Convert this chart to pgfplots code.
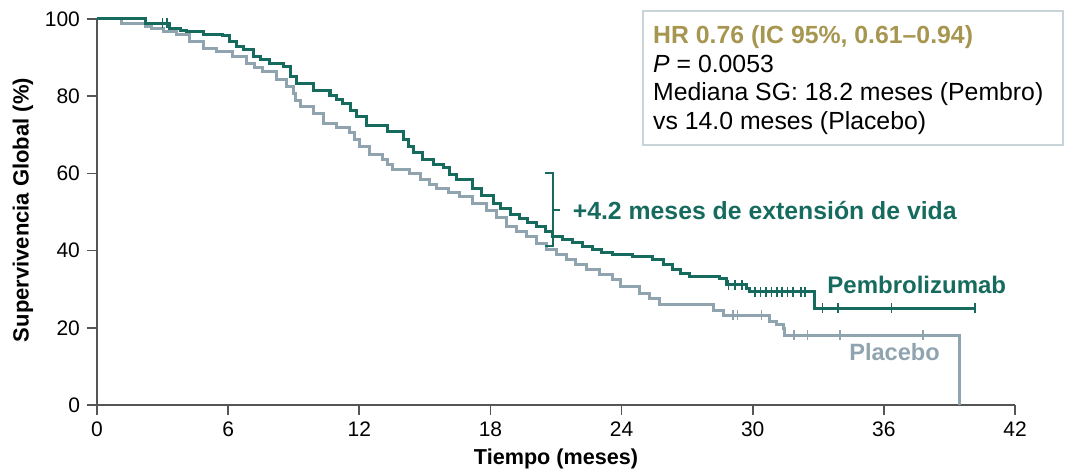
\documentclass[border=0pt]{standalone}
\usepackage{pgfplots}
\pgfplotsset{compat=1.18}
\usepackage{fontspec}
\setmainfont{Liberation Sans}
\definecolor{teal1}{RGB}{22,107,94}
\definecolor{plgray}{RGB}{143,164,175}
\definecolor{gold}{RGB}{166,150,80}
\definecolor{axgray}{RGB}{85,85,85}
\definecolor{boxcol}{RGB}{200,212,216}
\begin{document}
\begin{tikzpicture}
\begin{axis}[
  at={(0,0)}, anchor=south west, scale only axis, width=459pt, height=193pt,
  xmin=0, xmax=42, ymin=0, ymax=100,
  axis lines=left, axis line style={-, line width=1pt, color=axgray},
  xtick={0,6,...,42}, ytick={0,20,...,100},
  tick style={line width=0.8pt, color=axgray}, major tick length=5pt, tick align=outside,
  ticklabel style={font=\fontsize{10.5}{12}\selectfont},
  /pgf/number format/assume math mode=true,
  xlabel={\textbf{Tiempo (meses)}}, ylabel={\textbf{Supervivencia Global (\%)}},
  x label style={at={(axis description cs:0.5,-0.155)}, anchor=base, font=\fontsize{10.8}{12}\selectfont},
  y label style={at={(axis description cs:-0.0806,0.505)}, anchor=center, font=\fontsize{11}{12}\selectfont},
  clip=false,
]
\addplot[const plot, plgray, line width=1.5pt] coordinates {
(0,100)(1.13,98.9)(2.2,98.0)(2.5,97.6)(3.02,96.7)(3.65,95.9)(4.25,94.1)(4.85,92.4)(5.48,91.5)(6.22,90.2)(6.85,88.5)(7.2,87.4)(7.59,86.3)(8.22,84.2)(8.68,82.5)(8.97,80.7)(9.1,79.0)(9.29,77.3)(9.9,75.6)(10.34,73.0)(10.98,71.8)(11.57,70.5)(11.8,68.7)(12.03,66.9)(12.49,64.8)(13.08,63.5)(13.3,62.2)(13.54,60.9)(14.3,60.1)(14.78,58.3)(15.2,57.2)(15.55,56.2)(16.1,55.0)(16.6,53.9)(17.2,52.2)(17.84,50.5)(18.3,48.7)(18.74,46.2)(19.2,44.9)(19.66,43.6)(20.1,41.9)(20.57,40.2)(21.0,38.9)(21.49,37.6)(21.9,36.3)(22.4,35.0)(23.0,33.7)(23.6,32.4)(23.93,30.6)(24.84,28.9)(25.3,27.6)(25.75,26.0)(28.19,24.6)(28.65,23.3)(30.79,21.6)(31.1,20.8)(31.4,19.9)(31.47,18.1)(39.48,18.1)(39.48,0)
};
\addplot[only marks, mark=|, mark size=2.5pt, plgray, mark options={line width=0.8pt}] coordinates {
(29.1,23.3)(29.3,23.3)(30.4,23.3)(31.9,18.1)(32.5,18.1)(34.0,18.1)(37.8,18.1)
};
\addplot[const plot, teal1, line width=1.5pt] coordinates {
(0,100)(2.2,98.9)(3.3,97.6)(3.8,97.1)(4.1,96.7)(4.85,96.1)(5.76,95.6)(6.08,94.1)(6.4,93.0)(6.68,92.0)(7.14,90.2)(7.5,89.4)(7.91,88.6)(8.51,87.6)(8.83,85.0)(9.13,83.3)(9.9,81.6)(10.66,80.3)(10.95,79.2)(11.25,78.2)(11.6,76.4)(11.89,74.7)(12.35,72.5)(13.27,70.8)(14.0,68.7)(14.25,67.0)(14.46,65.3)(14.91,63.5)(15.4,62.4)(15.83,61.4)(16.15,59.8)(16.47,58.3)(17.2,56.2)(17.6,54.2)(18.12,52.3)(18.44,51.0)(18.9,49.4)(19.35,48.4)(19.7,47.3)(20.13,46.2)(20.5,44.9)(20.86,43.6)(21.3,42.8)(21.77,42.0)(22.2,41.1)(22.69,40.2)(23.1,39.5)(23.60,38.9)(24.52,38.4)(25.43,37.6)(25.9,36.3)(26.35,35.0)(26.7,34.1)(27.13,33.2)(28.50,32.8)(28.81,31.1)(29.72,30.2)(29.87,29.4)(32.84,25.1)(40.16,25.1)
};
\addplot[only marks, mark=|, mark size=2.5pt, teal1, mark options={line width=0.8pt}] coordinates {
(3.0,98.9)(3.2,98.9)(28.9,31.1)(29.2,31.1)(29.5,31.1)(30.1,29.4)(30.35,29.4)(30.6,29.4)(30.85,29.4)(31.1,29.4)(31.35,29.4)(31.6,29.4)(31.85,29.4)(32.2,29.4)(32.4,29.4)(33.2,25.1)(33.9,25.1)(36.35,25.1)(40.16,25.1)
};
\draw[boxcol, line width=0.8pt] (axis cs:24.98,102.0) rectangle (axis cs:44.19,67.3);
\node[anchor=north west, align=left, inner sep=0pt, font=\fontsize{12.4}{14.2}\selectfont] at (axis cs:25.43,98.3)
 {{\color{gold}\bfseries HR 0.76 (IC 95\%, 0.61--0.94)}\\
  \textit{P} = 0.0053\\
  Mediana SG: 18.2 meses (Pembro)\\
  vs 14.0 meses (Placebo)};
\draw[teal1, line width=1.2pt] (axis cs:20.5,60.1) -- (axis cs:20.86,60.1) -- (axis cs:20.86,41.2) -- (axis cs:20.5,41.2);
\draw[teal1, line width=1.2pt] (axis cs:20.86,50.5) -- (axis cs:21.2,50.5);
\node[anchor=west, inner sep=0pt, text=teal1, font=\bfseries\fontsize{12.4}{14}\selectfont] at (axis cs:21.75,50.5) {+4.2 meses de extensión de vida};
\node[anchor=west, inner sep=0pt, text=teal1, font=\bfseries\fontsize{12}{14}\selectfont] at (axis cs:33.4,31.1) {Pembrolizumab};
\node[anchor=west, inner sep=0pt, text=plgray, font=\bfseries\fontsize{11.8}{14}\selectfont] at (axis cs:34.4,13.7) {Placebo};
\end{axis}
\pgfresetboundingbox
\path (-48.5pt,-33pt) rectangle (485.5pt,202.5pt);
\end{tikzpicture}
\end{document}
